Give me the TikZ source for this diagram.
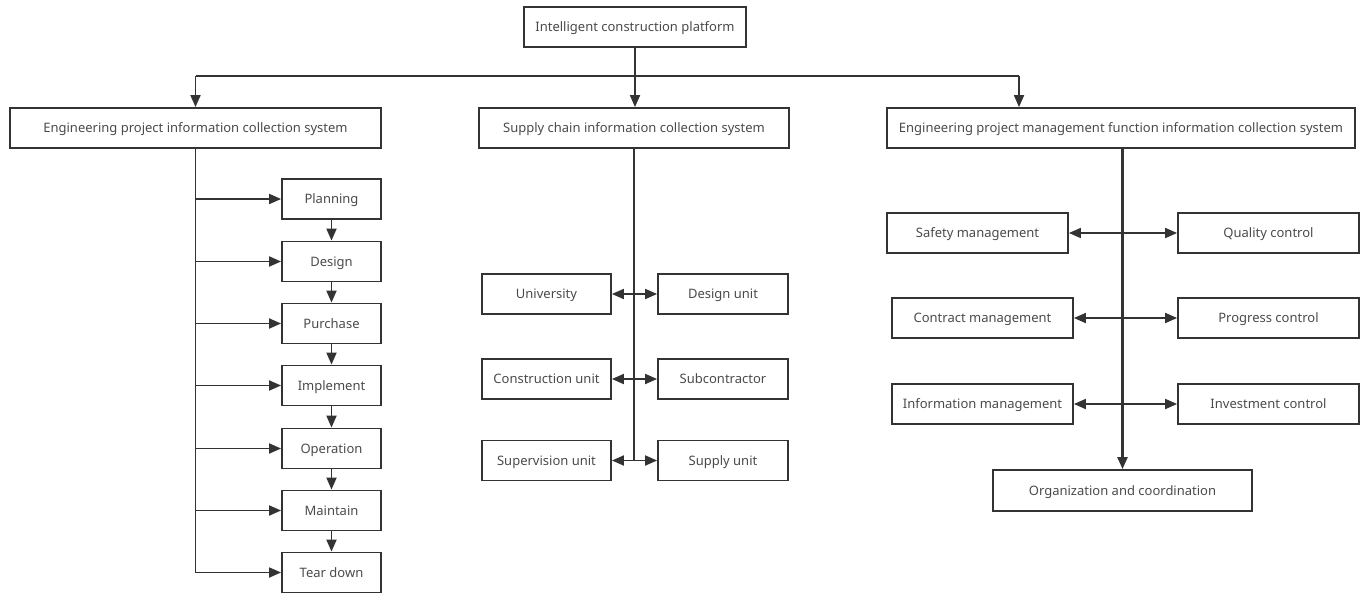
\documentclass[tikz,border=0pt]{standalone}
\usepackage{fontspec}
\setmainfont{Noto Sans}
\usetikzlibrary{arrows.meta}
\definecolor{ln}{HTML}{333333}
\definecolor{tx}{HTML}{4A4A4A}
\begin{document}
\begin{tikzpicture}[x=1pt,y=-1pt,
  box/.style={draw=ln,line width=1.8pt,rectangle,minimum height=40pt,inner sep=0pt,text=tx,text height=9pt,text depth=0pt,font=\fontsize{13}{15}\selectfont},
  ln/.style={draw=ln,line width=1.8pt},
  arr/.style={ln,-{Triangle[length=12pt,width=10pt]}},
  barr/.style={ln,{Triangle[length=12pt,width=10pt]}-{Triangle[length=12pt,width=10pt]}}]
\useasboundingbox (0,0) rectangle (1365,592);
% top level
\node[box,minimum width=222pt] (top) at (635,27) {Intelligent construction platform};
\node[box,minimum width=371pt] (L) at (195.5,128) {Engineering project information collection system};
\node[box,minimum width=310pt] (M) at (634,128) {Supply chain information collection system};
\node[box,minimum width=468pt] (R) at (1121,128) {Engineering project management function information collection system};
\coordinate (j) at (635,76);
\coordinate (jl) at (195.5,76);
\coordinate (jr) at (1019,76);
\draw[arr] (top.south) -- (top.south |- M.north);
\draw[ln] (jl) -- (jr);
\draw[arr] (jl) -- (L.north);
\draw[arr] (jr) -- (jr |- R.north);
% left stages
\foreach \n/\t/\y in {s1/Planning/199,s2/Design/261.5,s3/Purchase/323.5,s4/Implement/385.5,s5/Operation/448.5,s6/Maintain/510.5,s7/Tear down/572.5}{
  \node[box,minimum width=99pt] (\n) at (331.5,\y) {\t};
  \draw[arr] (L.south |- \n.west) -- (\n.west);
}
\draw[ln] (L.south) -- (L.south |- s7.west);
\draw[arr] (s1.south) -- (s2.north);
\draw[arr] (s2.south) -- (s3.north);
\draw[arr] (s3.south) -- (s4.north);
\draw[arr] (s4.south) -- (s5.north);
\draw[arr] (s5.south) -- (s6.north);
\draw[arr] (s6.south) -- (s7.north);
% middle
\node[box,minimum width=129pt] (m1) at (546.5,294) {University};
\node[box,minimum width=130pt] (m2) at (723,294) {Design unit};
\node[box,minimum width=129pt] (m3) at (546.5,379) {Construction unit};
\node[box,minimum width=130pt] (m4) at (723,379) {Subcontractor};
\node[box,minimum width=129pt] (m5) at (546.5,460.5) {Supervision unit};
\node[box,minimum width=130pt] (m6) at (723,460.5) {Supply unit};
\draw[ln] (M.south) -- (M.south |- m5.east);
\draw[barr] (m1.east) -- (m2.west);
\draw[barr] (m3.east) -- (m4.west);
\draw[barr] (m5.east) -- (m6.west);
% right
\node[box,minimum width=181pt] (r1) at (977.5,233) {Safety management};
\node[box,minimum width=181pt] (r2) at (1268.5,233) {Quality control};
\node[box,minimum width=181pt] (r3) at (982.5,318) {Contract management};
\node[box,minimum width=181pt] (r4) at (1268.5,318) {Progress control};
\node[box,minimum width=181pt] (r5) at (982.5,404) {Information management};
\node[box,minimum width=181pt] (r6) at (1268.5,404) {Investment control};
\node[box,minimum width=259pt,minimum height=41pt] (org) at (1122.5,490.5) {Organization and coordination};
\draw[barr] (r1.east) -- (r2.west);
\draw[barr] (r3.east) -- (r4.west);
\draw[barr] (r5.east) -- (r6.west);
\draw[arr,line width=2.4pt] (org.north |- R.south) -- (org.north);
\end{tikzpicture}
\end{document}
